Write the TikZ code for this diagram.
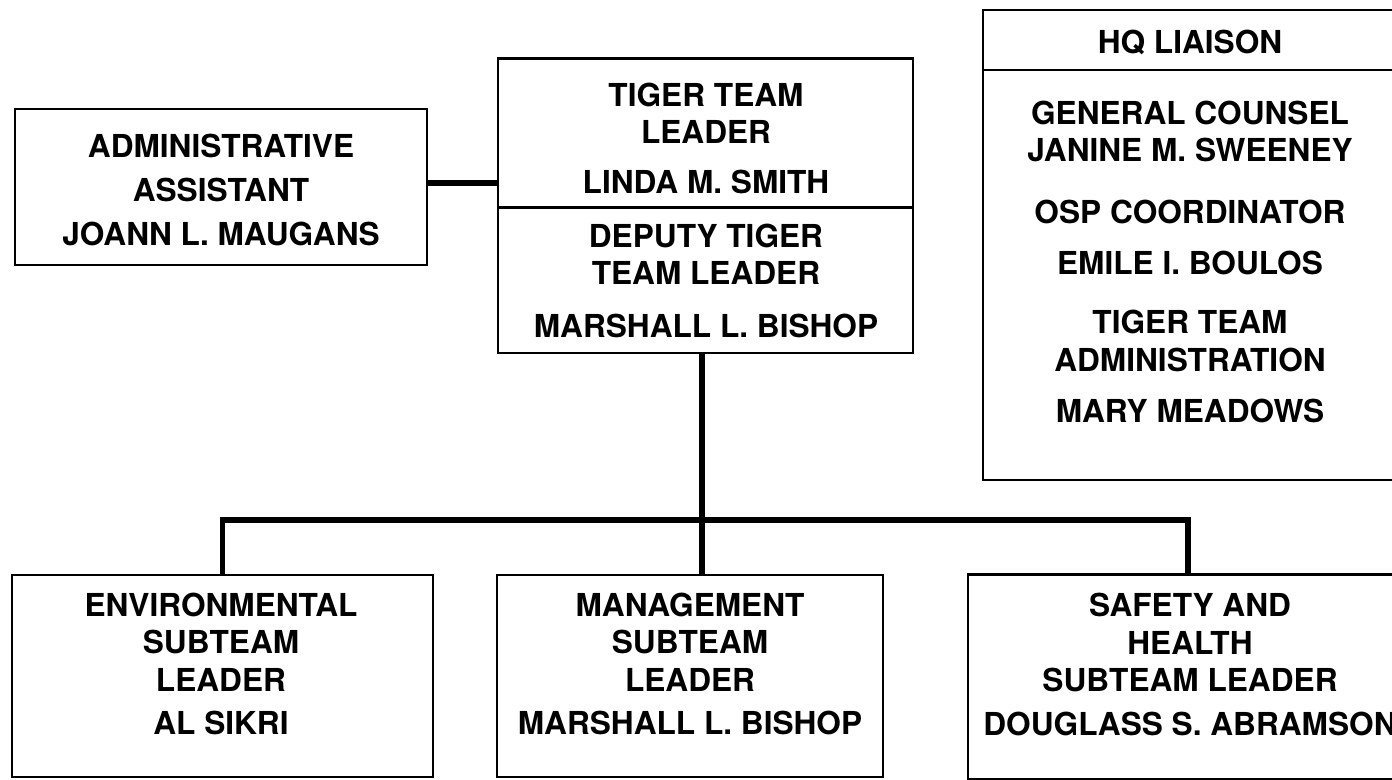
\documentclass[tikz,border=0pt]{standalone}
\usepackage{fontspec}
\setmainfont{TeX Gyre Heros}
\usetikzlibrary{positioning}

\begin{document}
\begin{tikzpicture}[x=0.02cm,y=-0.02cm,line join=miter,
	box/.style={draw,line width=1.4pt,inner sep=0pt},
	txt/.style={align=center,inner sep=0pt,font=\fontsize{18}{21.3}\selectfont\bfseries},
	link/.style={line width=3.2pt}]
	\useasboundingbox (0,0) rectangle (1392,779);
	% top row
	\node[box,minimum width=8.24cm,minimum height=3.12cm] (admin) at (221,187) {};
	\node[txt,font=\fontsize{18}{25}\selectfont\bfseries] (admintxt) at (221,190) {ADMINISTRATIVE\\ASSISTANT\\JOANN L. MAUGANS};
	\node[box,minimum width=8.3cm,minimum height=2.98cm] (leader) at (705.5,133) {};
	\node[txt] (leadertxt) at (706,138.5) {TIGER TEAM\\LEADER\\[7.4pt]LINDA M. SMITH};
	\node[box,minimum width=8.3cm,minimum height=2.92cm] (deputy) at (705.5,280) {};
	\node[txt] (deputytxt) at (706,281) {DEPUTY TIGER\\TEAM LEADER\\[8.8pt]MARSHALL L. BISHOP};
	% liaison box on the right
	\node[box,minimum width=8.28cm,minimum height=1.2cm] (hqhead) at (1190,40) {};
	\node[txt] (hqheadtxt) at (1190,42) {HQ LIAISON};
	\node[box,minimum width=8.28cm,minimum height=8.2cm] (hqbody) at (1190,275) {};
	\node[txt] (hqbodytxt) at (1190,262) {GENERAL COUNSEL\\JANINE M. SWEENEY\\[13.6pt]OSP COORDINATOR\\[8pt]EMILE I. BOULOS\\[12.5pt]TIGER TEAM\\ADMINISTRATION\\[8pt]MARY MEADOWS};
	% subteams
	\node[box,minimum width=8.42cm,minimum height=4.04cm] (env) at (222.5,676) {};
	\node[txt] (envtxt) at (221,664) {ENVIRONMENTAL\\SUBTEAM\\LEADER\\[3.4pt]AL SIKRI};
	\node[box,minimum width=7.72cm,minimum height=4.04cm] (mgmt) at (690,676) {};
	\node[txt] (mgmttxt) at (690,664) {MANAGEMENT\\SUBTEAM\\LEADER\\[3.4pt]MARSHALL L. BISHOP};
	\node[box,minimum width=8.8cm,minimum height=4.1cm] (safety) at (1188,677) {};
	\node[txt] (safetytxt) at (1190,664.5) {SAFETY AND\\HEALTH\\SUBTEAM LEADER\\[3.4pt]DOUGLASS S. ABRAMSON};
	% connectors
	\coordinate (bus) at (702,520);
	\draw[link] ([yshift=0.08cm]admin.east) -- ([yshift=0.08cm]admin.east -| leader.west);
	\draw[link] (deputy.south -| bus) -- (bus);
	\draw[link] (env.north) |- (bus) -| (safety.north);
	\draw[link] (bus) -- (bus |- mgmt.north);
\end{tikzpicture}
\end{document}
